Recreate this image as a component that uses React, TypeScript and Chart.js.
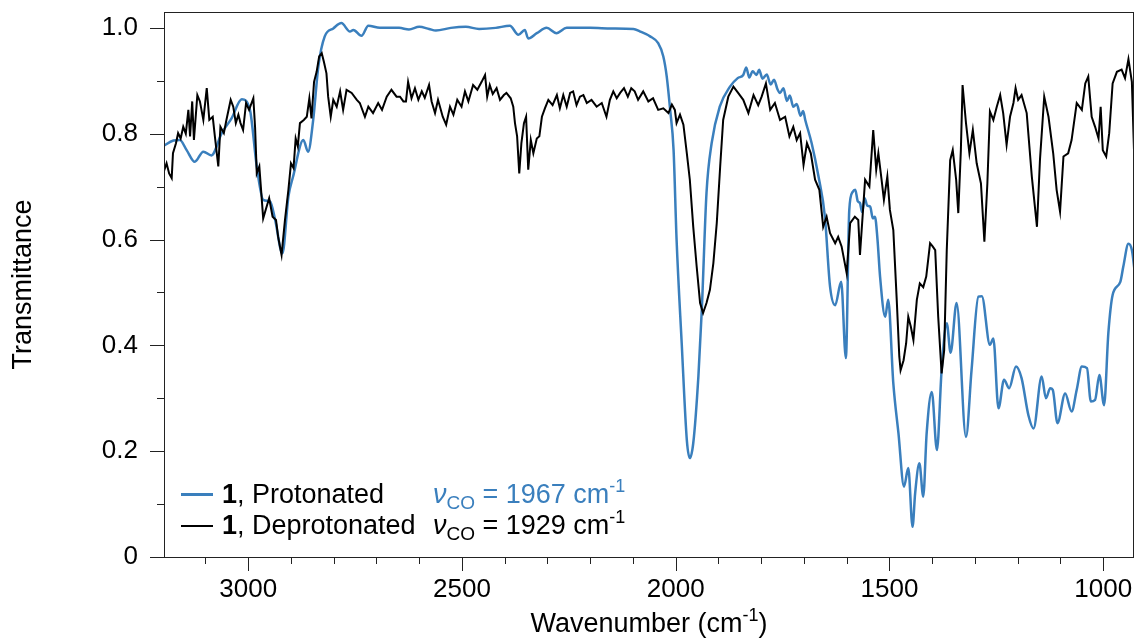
import React, { useEffect, useRef } from 'react';
import { Chart, registerables } from 'chart.js';

Chart.register(...registerables);

// ---- Data ----
const protonatedWavenumber = [
  3200, 3175, 3160, 3144, 3125, 3105, 3086, 3062, 3039, 3015, 2996, 2980, 2965, 2949, 2937, 2920, 2906, 2895,
  2871, 2860, 2848, 2836, 2821, 2801, 2782, 2762, 2754, 2735, 2719, 2692, 2647, 2624, 2600, 2577, 2561, 2526,
  2491, 2460, 2421, 2388, 2368, 2353, 2345, 2325, 2302, 2279, 2255, 2200, 2150, 2099, 2083, 2060, 2041, 2029,
  2021, 2013, 2005, 1998, 1986, 1974, 1967, 1959, 1947, 1939, 1928, 1916, 1897, 1873, 1855, 1842, 1835, 1828,
  1820, 1811, 1805, 1797, 1787, 1778, 1770, 1762, 1756, 1748, 1740, 1733, 1725, 1717, 1708, 1702, 1697, 1682,
  1666, 1651, 1639, 1627, 1613, 1602, 1594, 1586, 1580, 1574, 1569, 1564, 1558, 1552, 1545, 1539, 1534, 1528,
  1522, 1510, 1503, 1491, 1479, 1466, 1456, 1446, 1440, 1430, 1421, 1413, 1401, 1389, 1378, 1366, 1357, 1343,
  1321, 1308, 1292, 1284, 1265, 1257, 1245, 1232, 1220, 1204, 1191, 1175, 1163, 1144, 1134, 1124, 1118, 1107,
  1089, 1074, 1062, 1050, 1038, 1029, 1019, 1009, 998, 988, 978, 960, 953, 941, 933, 925,
];
const protonatedT = [
  0.776, 0.787, 0.788, 0.769, 0.747, 0.766, 0.759, 0.801, 0.829, 0.865, 0.845, 0.738, 0.675, 0.672, 0.637, 0.574, 0.681, 0.719,
  0.788, 0.766, 0.826, 0.927, 0.984, 0.999, 1.009, 0.993, 0.996, 0.985, 1.004, 1.0, 1.0, 0.997, 1.002, 0.998, 0.995, 1.0,
  1.002, 0.998, 1.0, 1.004, 0.987, 0.996, 0.98, 0.99, 1.0, 0.99, 1.0, 1.0, 0.999, 0.998, 0.993, 0.984, 0.971, 0.946,
  0.908, 0.845, 0.769, 0.6, 0.404, 0.221, 0.187, 0.215, 0.341, 0.467, 0.688, 0.782, 0.851, 0.889, 0.905, 0.911, 0.925, 0.906,
  0.918, 0.911, 0.921, 0.904, 0.912, 0.893, 0.902, 0.884, 0.877, 0.886, 0.862, 0.872, 0.851, 0.856, 0.834, 0.843, 0.826, 0.782,
  0.719, 0.643, 0.511, 0.476, 0.52, 0.376, 0.656, 0.69, 0.694, 0.672, 0.669, 0.652, 0.678, 0.664, 0.662, 0.64, 0.643, 0.6,
  0.53, 0.454, 0.486, 0.328, 0.234, 0.133, 0.168, 0.057, 0.12, 0.177, 0.114, 0.234, 0.312, 0.202, 0.353, 0.442, 0.386, 0.48,
  0.227, 0.353, 0.492, 0.493, 0.401, 0.413, 0.281, 0.335, 0.319, 0.36, 0.338, 0.268, 0.243, 0.341, 0.3, 0.319, 0.316, 0.253,
  0.309, 0.275, 0.316, 0.36, 0.357, 0.294, 0.297, 0.344, 0.287, 0.423, 0.495, 0.52, 0.549, 0.592, 0.58, 0.53,
];

const deprotonatedWavenumber = [
  3199, 3191, 3185, 3179, 3176, 3169, 3164, 3158, 3152, 3146, 3140, 3136, 3131, 3127, 3119, 3113, 3105, 3097,
  3091, 3083, 3078, 3070, 3065, 3057, 3051, 3041, 3035, 3029, 3023, 3018, 3012, 3005, 2998, 2988, 2984, 2980,
  2974, 2965, 2957, 2951, 2943, 2935, 2930, 2922, 2914, 2906, 2900, 2894, 2889, 2884, 2879, 2870, 2863, 2857,
  2852, 2846, 2840, 2834, 2828, 2823, 2817, 2813, 2807, 2801, 2793, 2785, 2778, 2770, 2758, 2746, 2739, 2727,
  2719, 2708, 2696, 2687, 2676, 2665, 2653, 2645, 2637, 2631, 2626, 2618, 2610, 2602, 2594, 2587, 2577, 2571,
  2563, 2556, 2545, 2537, 2528, 2520, 2511, 2501, 2493, 2485, 2474, 2464, 2454, 2446, 2441, 2435, 2428, 2419,
  2411, 2402, 2396, 2386, 2380, 2376, 2371, 2366, 2361, 2355, 2350, 2345, 2339, 2333, 2325, 2319, 2313, 2306,
  2298, 2288, 2278, 2271, 2263, 2255, 2247, 2240, 2232, 2224, 2216, 2208, 2197, 2185, 2173, 2162, 2154, 2146,
  2138, 2130, 2121, 2112, 2104, 2096, 2088, 2076, 2064, 2053, 2041, 2029, 2017, 2009, 2002, 1998, 1990, 1982,
  1974, 1967, 1959, 1951, 1943, 1936, 1928, 1920, 1912, 1904, 1896, 1889, 1877, 1865, 1854, 1842, 1830, 1818,
  1807, 1799, 1789, 1779, 1768, 1756, 1744, 1734, 1725, 1717, 1709, 1701, 1693, 1684, 1674, 1664, 1655, 1647,
  1639, 1627, 1620, 1612, 1600, 1592, 1581, 1573, 1569, 1557, 1547, 1538, 1531, 1526, 1518, 1513, 1505, 1499,
  1491, 1483, 1477, 1474, 1467, 1461, 1456, 1450, 1444, 1436, 1429, 1421, 1414, 1405, 1399, 1393, 1386, 1378,
  1372, 1366, 1358, 1352, 1344, 1339, 1333, 1329, 1321, 1313, 1305, 1296, 1286, 1278, 1271, 1265, 1257, 1249,
  1241, 1234, 1226, 1218, 1210, 1205, 1199, 1191, 1179, 1167, 1155, 1148, 1138, 1128, 1117, 1109, 1101, 1093,
  1082, 1074, 1062, 1050, 1042, 1035, 1027, 1019, 1011, 1006, 1001, 993, 986, 978, 968, 957, 949, 941, 933, 928,
];
const deprotonatedT = [
  0.725, 0.744, 0.725, 0.716, 0.763, 0.782, 0.801, 0.791, 0.813, 0.8, 0.845, 0.795, 0.861, 0.788, 0.873, 0.861, 0.826, 0.886,
  0.826, 0.832, 0.795, 0.738, 0.813, 0.801, 0.826, 0.864, 0.851, 0.82, 0.836, 0.82, 0.807, 0.858, 0.845, 0.867, 0.813, 0.725,
  0.738, 0.64, 0.662, 0.678, 0.643, 0.637, 0.605, 0.571, 0.637, 0.694, 0.744, 0.735, 0.791, 0.776, 0.82, 0.826, 0.832, 0.867,
  0.829, 0.898, 0.917, 0.946, 0.952, 0.936, 0.914, 0.87, 0.832, 0.864, 0.851, 0.88, 0.845, 0.883, 0.877, 0.864, 0.858, 0.832,
  0.851, 0.839, 0.858, 0.845, 0.87, 0.883, 0.87, 0.87, 0.861, 0.861, 0.898, 0.867, 0.886, 0.864, 0.88, 0.868, 0.892, 0.861,
  0.839, 0.864, 0.832, 0.817, 0.851, 0.836, 0.864, 0.851, 0.88, 0.861, 0.892, 0.883, 0.898, 0.911, 0.87, 0.892, 0.875, 0.886,
  0.864, 0.873, 0.877, 0.867, 0.851, 0.82, 0.795, 0.725, 0.782, 0.82, 0.832, 0.732, 0.788, 0.763, 0.791, 0.795, 0.832, 0.848,
  0.864, 0.854, 0.873, 0.848, 0.873, 0.851, 0.877, 0.88, 0.854, 0.87, 0.873, 0.858, 0.864, 0.851, 0.858, 0.832, 0.864, 0.88,
  0.867, 0.877, 0.886, 0.87, 0.886, 0.88, 0.864, 0.88, 0.861, 0.867, 0.845, 0.848, 0.839, 0.855, 0.845, 0.82, 0.836, 0.817,
  0.763, 0.713, 0.624, 0.549, 0.48, 0.461, 0.48, 0.505, 0.555, 0.631, 0.738, 0.826, 0.87, 0.889, 0.877, 0.864, 0.839, 0.873,
  0.854, 0.87, 0.895, 0.845, 0.858, 0.826, 0.832, 0.795, 0.813, 0.788, 0.801, 0.741, 0.782, 0.763, 0.713, 0.694, 0.624, 0.643,
  0.612, 0.593, 0.605, 0.587, 0.536, 0.631, 0.643, 0.637, 0.571, 0.713, 0.7, 0.807, 0.732, 0.763, 0.71, 0.675, 0.719, 0.656,
  0.618, 0.486, 0.379, 0.353, 0.372, 0.404, 0.454, 0.435, 0.41, 0.486, 0.517, 0.51, 0.53, 0.593, 0.587, 0.58, 0.454, 0.347,
  0.391, 0.58, 0.75, 0.769, 0.713, 0.65, 0.769, 0.892, 0.82, 0.763, 0.807, 0.744, 0.706, 0.596, 0.706, 0.842, 0.826, 0.851,
  0.873, 0.839, 0.779, 0.832, 0.858, 0.886, 0.864, 0.873, 0.839, 0.719, 0.624, 0.75, 0.87, 0.832, 0.763, 0.694, 0.653, 0.757,
  0.763, 0.788, 0.858, 0.845, 0.895, 0.908, 0.832, 0.813, 0.791, 0.851, 0.769, 0.757, 0.801, 0.895, 0.917, 0.921, 0.905, 0.941, 0.898, 0.769,
];

const xTickValues = [1000, 1100, 1200, 1300, 1400, 1500, 1600, 1700, 1800, 1900, 2000, 2100, 2200, 2300, 2400, 2500, 2600, 2700, 2800, 2900, 3000, 3100];
const yTickValues = [0, 0.1, 0.2, 0.3, 0.4, 0.5, 0.6, 0.7, 0.8, 0.9, 1.0];
const seriesNames = ['Protonated', 'Deprotonated'];
const compoundNumber = '1';
const coFrequencies = [1967, 1929];
const xTitle = 'Wavenumber (cm';
const yTitle = 'Transmittance';

const BLUE = '#3a7fbd';
const BLACK = '#000000';
const FAM = '"Liberation Sans", Arial, Helvetica, sans-serif';

type Part = { text: string; font: string; dy?: number; color: string };

function drawParts(ctx: CanvasRenderingContext2D, x: number, y: number, parts: Part[]) {
  let cx = x;
  for (const p of parts) {
    ctx.font = p.font;
    ctx.fillStyle = p.color;
    ctx.fillText(p.text, cx, y + (p.dy || 0));
    cx += ctx.measureText(p.text).width;
  }
  return cx;
}

function measureParts(ctx: CanvasRenderingContext2D, parts: Part[]) {
  let w = 0;
  for (const p of parts) {
    ctx.font = p.font;
    w += ctx.measureText(p.text).width;
  }
  return w;
}

const decorPlugin = {
  id: 'decor',
  afterDraw(chart: any) {
    const ctx: CanvasRenderingContext2D = chart.ctx;
    const { left, right, top, bottom } = chart.chartArea;
    const xs = chart.scales.x;
    const ys = chart.scales.y;
    ctx.save();
    // frame
    ctx.strokeStyle = '#222';
    ctx.lineWidth = 1;
    ctx.strokeRect(left + 0.5, top + 0.5, right - left - 1, bottom - top);
    // ticks
    ctx.beginPath();
    for (const v of xTickValues) {
      const px = Math.round(xs.getPixelForValue(v)) + 0.5;
      const len = v % 500 === 0 ? 14 : 7;
      ctx.moveTo(px, bottom);
      ctx.lineTo(px, bottom + len);
    }
    for (const v of yTickValues) {
      const py = Math.round(ys.getPixelForValue(v)) + 0.5;
      const len = Math.round(v * 10) % 2 === 0 ? 14 : 7;
      ctx.moveTo(left, py);
      ctx.lineTo(left - len, py);
    }
    ctx.stroke();

    // axis titles
    ctx.textBaseline = 'alphabetic';
    ctx.textAlign = 'left';
    const big = `27px ${FAM}`;
    const small = `18px ${FAM}`;
    const xParts: Part[] = [
      { text: xTitle, font: big, color: '#000' },
      { text: '-1', font: small, dy: -11, color: '#000' },
      { text: ')', font: big, color: '#000' },
    ];
    const cxm = (left + right) / 2;
    const xw = measureParts(ctx, xParts);
    drawParts(ctx, cxm - xw / 2, 632, xParts);

    ctx.save();
    ctx.translate(31, (top + bottom) / 2);
    ctx.rotate(-Math.PI / 2);
    ctx.font = big;
    ctx.fillStyle = '#000';
    ctx.textAlign = 'center';
    ctx.fillText(yTitle, 0, 0);
    ctx.restore();

    // legend
    ctx.textAlign = 'left';
    ctx.lineCap = 'butt';
    const rows = [
      { color: BLUE, width: 3, lineY: 494.5, base: 503 },
      { color: BLACK, width: 2, lineY: 526, base: 534 },
    ];
    rows.forEach((r, i) => {
      ctx.strokeStyle = r.color;
      ctx.lineWidth = r.width;
      ctx.beginPath();
      ctx.moveTo(181, r.lineY);
      ctx.lineTo(213, r.lineY);
      ctx.stroke();
      drawParts(ctx, 222, r.base, [
        { text: compoundNumber, font: `bold 27px ${FAM}`, color: '#000' },
        { text: ', ' + seriesNames[i], font: big, color: '#000' },
      ]);
      drawParts(ctx, 433, r.base, [
        { text: 'ν', font: `italic 27px ${FAM}`, color: r.color },
        { text: 'CO', font: `19px ${FAM}`, dy: 6, color: r.color },
        { text: ` = ${coFrequencies[i]} cm`, font: big, color: r.color },
        { text: '-1', font: small, dy: -11, color: r.color },
      ]);
    });
    ctx.restore();
  },
};

export default function App() {
  const ref = useRef<HTMLCanvasElement | null>(null);
  useEffect(() => {
    if (!ref.current) return;
    const chart = new Chart(ref.current, {
      type: 'line',
      data: {
        datasets: [
          {
            label: seriesNames[0],
            data: protonatedWavenumber.map((w, i) => ({ x: w, y: protonatedT[i] })),
            borderColor: BLUE,
            borderWidth: 2.5,
            pointRadius: 0,
            cubicInterpolationMode: 'monotone',
            fill: false,
            order: 2,
          },
          {
            label: seriesNames[1],
            data: deprotonatedWavenumber.map((w, i) => ({ x: w, y: deprotonatedT[i] })),
            borderColor: BLACK,
            borderWidth: 2,
            pointRadius: 0,
            tension: 0,
            fill: false,
            order: 1,
          },
        ],
      },
      options: {
        animation: false,
        responsive: false,
        maintainAspectRatio: false,
        layout: { padding: { top: 12, right: 2, left: 0, bottom: 0 } },
        plugins: { legend: { display: false }, tooltip: { enabled: false }, title: { display: false } },
        scales: {
          x: {
            type: 'linear',
            reverse: true,
            min: 928,
            max: 3197,
            afterBuildTicks: (s: any) => {
              s.ticks = xTickValues.map((v) => ({ value: v }));
            },
            afterFit: (s: any) => {
              s.height = 83;
              s.paddingLeft = 0;
              s.paddingRight = 0;
            },
            grid: { display: true, drawOnChartArea: false, drawTicks: true, tickLength: 14, tickColor: 'transparent' },
            border: { display: false },
            ticks: {
              autoSkip: false,
              maxRotation: 0,
              minRotation: 0,
              padding: 3,
              color: '#000',
              font: { family: FAM, size: 26 },
              callback: (v: any) => (Number(v) % 500 === 0 ? String(v) : ''),
            },
          },
          y: {
            type: 'linear',
            min: 0,
            max: 1.03,
            afterBuildTicks: (s: any) => {
              s.ticks = yTickValues.map((v) => ({ value: v }));
            },
            afterFit: (s: any) => {
              s.width = 164;
              s.paddingTop = 0;
              s.paddingBottom = 0;
            },
            grid: { display: true, drawOnChartArea: false, drawTicks: true, tickLength: 14, tickColor: 'transparent' },
            border: { display: false },
            ticks: {
              autoSkip: false,
              padding: 12,
              color: '#000',
              font: { family: FAM, size: 26 },
              callback: (v: any) => {
                const n = Number(v);
                const k = Math.round(n * 10);
                if (k % 2 !== 0) return '';
                return k === 0 ? '0' : n.toFixed(1);
              },
            },
          },
        },
      },
      plugins: [decorPlugin],
    } as any);
    return () => chart.destroy();
  }, []);
  return (
    <div style={{ position: 'absolute', left: 0, top: 0, width: 1136, height: 640, background: '#fff' }}>
      <canvas ref={ref} width={1136} height={640} style={{ display: 'block' }} />
    </div>
  );
}
